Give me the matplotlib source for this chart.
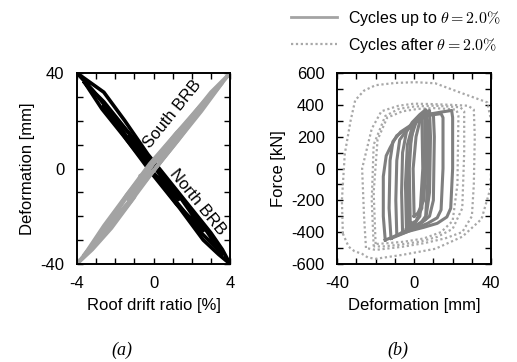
import numpy as np
import matplotlib.pyplot as plt
from matplotlib.lines import Line2D
from matplotlib.ticker import MultipleLocator

plt.rcParams['font.family'] = ['Liberation Sans', 'DejaVu Sans']
plt.rcParams['mathtext.fontset'] = 'cm'
plt.rcParams['axes.unicode_minus'] = False

# ---- (a) BRB deformation vs roof drift ratio, one list per cycle
north_drift = [
    [-4.0, -3.3, -2.6, -1.5, -0.3, 1.0, 2.2, 3.0, 3.6, 4.0, 3.4, 2.6, 1.4, 0.0, -1.2, -2.4, -3.2, -4.0],
    [-3.6, -2.6, -1.3, 0.0, 1.2, 2.5, 3.6, 2.5, 1.2, -0.1, -1.4, -2.7, -3.6],
    [-2.6, -1.3, 0.0, 1.3, 2.6, 1.2, -0.1, -1.4, -2.6],
    [-1.3, 0.0, 1.3, 0.0, -1.3],
]
north_def = [
    [40, 36, 32, 20, 6, -7, -19, -27, -34, -40, -36, -30, -17, -2, 11, 25, 33, 40],
    [36, 28, 15, 2, -10, -23, -36, -27, -14, -1, 12, 25, 36],
    [26, 15, 2, -11, -26, -15, -2, 12, 26],
    [13, 1, -13, -2, 13],
]
south_drift = [
    [-4.0, -3.2, -2.2, -1.0, -0.7, 0.0, 1.2, 2.4, 3.2, 4.0, 3.0, 2.0, 0.9, -0.2, -1.4, -2.6, -3.4, -4.0],
    [-3.6, -2.5, -1.2, 0.0, 1.3, 2.5, 3.6, 2.4, 1.1, -0.2, -1.4, -2.6, -3.6],
    [-2.6, -1.3, 0.0, 1.3, 2.6, 1.2, -0.1, -1.4, -2.6],
    [-1.3, 0.0, 1.3, 0.0, -1.3],
]
south_def = [
    [-40, -34, -25, -12, -3, -1, 12, 24, 32, 40, 32, 22, 11, 1, -12, -26, -34, -40],
    [-36, -27, -14, -1, 12, 24, 36, 26, 14, 2, -11, -24, -36],
    [-26, -14, -1, 12, 26, 15, 2, -11, -26],
    [-13, -1, 13, 2, -13],
]

# ---- (b) BRB force vs deformation
solid_disp = [
    [-15, -16, -16, -14.5, -12.5, -9, -3, 2, 7, 14, 19.5, 20, 20, 19, 17, 12, 5, -3, -10, -15],
    [-12, -13, -12.5, -11, -7, -2, 3, 8, 14, 15, 15, 14, 12, 7, 0, -6, -12],
    [-9, -9.5, -9, -7.5, -4, 0, 4, 8, 10, 10.5, 10, 8, 4, -1, -5, -9],
    [-6, -6.5, -6, -4, -1, 3, 6, 7, 7, 6, 3, -1, -4, -6],
    [-4, -4.5, -3.5, -1, 2, 5, 8, 8.5, 8, 6, 2, -2, -4],
    [-2, -2.5, -1.5, 1, 4, 5.5, 5.5, 4, 1, -2],
    [-3, -3.5, -2, 0, 2.5, 4, 4.5, 3, 0, -3],
    [0, -0.5, 1, 3, 6, 6.5, 5, 2, 0],
]
solid_force = [
    [-450, -300, -50, 80, 130, 207, 257, 302, 340, 355, 365, 320, 0, -250, -305, -345, -370, -395, -425, -450],
    [-440, -250, 50, 170, 230, 270, 310, 335, 345, 320, 0, -260, -310, -345, -380, -410, -440],
    [-420, -200, 50, 180, 240, 280, 320, 340, 345, 200, -200, -300, -340, -370, -395, -420],
    [-400, -150, 100, 230, 290, 340, 370, 300, -100, -300, -350, -370, -390, -400],
    [-380, -100, 150, 260, 320, 350, 365, 200, -150, -320, -350, -370, -380],
    [-350, 0, 200, 290, 340, 360, 100, -250, -330, -350],
    [-360, -50, 150, 280, 330, 340, 0, -300, -350, -360],
    [-300, 0, 200, 300, 350, 100, -200, -280, -300],
]
dotted_disp = [
    [-37, -37.5, -36, -33, -30.6, -26, -20, -10, 0.5, 11, 25, 38, 40, 40, 39.5, 35, 25, 11, -6, -20, -24, -27, -31, -34, -37],
    [-25, -26, -27, -22, -17, -8, 0, 10, 20, 28, 31, 31.5, 31, 30, 25, 16, 5, -6, -15, -20, -25],
    [-21, -22, -21, -15, -8, 0, 10, 18, 24, 26, 26, 25, 20, 12, 3, -8, -16, -21],
    [-20, -21, -19, -14, -6, 2, 10, 17, 22, 23, 22.5, 20, 14, 5, -5, -14, -20],
]
dotted_force = [
    [-410, -200, 92, 300, 429, 490, 524, 538, 543, 536, 473, 416, 300, 0, -130, -318, -429, -505, -543, -568, -560, -537, -520, -492, -410],
    [-500, -300, 0, 250, 360, 395, 408, 405, 400, 395, 370, 200, -100, -300, -400, -440, -470, -492, -505, -512, -500],
    [-490, -200, 150, 330, 375, 390, 395, 390, 385, 360, 100, -250, -380, -430, -460, -480, -490, -490],
    [-475, -150, 180, 320, 360, 375, 380, 375, 370, 330, -100, -330, -400, -440, -460, -470, -475],
]

fig = plt.figure(figsize=(5.17, 3.62), dpi=100)
ax1 = fig.add_axes([0.149, 0.271, 0.296, 0.527])
ax2 = fig.add_axes([0.652, 0.271, 0.298, 0.527])

for x, y in zip(north_drift, north_def):
    ax1.plot(x, y, color='black', lw=2.6)
for x, y in zip(south_drift, south_def):
    ax1.plot(x, y, color='#a3a3a3', lw=2.6)
ax1.set_xlim(-4, 4)
ax1.set_ylim(-40, 40)
ax1.set_xticks([-4, 0, 4])
ax1.set_yticks([-40, 0, 40])
ax1.xaxis.set_minor_locator(MultipleLocator(1))
ax1.yaxis.set_minor_locator(MultipleLocator(10))
ax1.set_xlabel('Roof drift ratio [%]', fontsize=12, labelpad=5)
ax1.set_ylabel('Deformation [mm]', fontsize=12, labelpad=4)
ax1.text(1.0, 23, 'South BRB', rotation=51, fontsize=12, ha='center', va='center')
ax1.text(2.3, -14, 'North BRB', rotation=-51, fontsize=12, ha='center', va='center')

for x, y in zip(dotted_disp, dotted_force):
    ax2.plot(x, y, color='#a8a8a8', lw=1.6, ls=(0, (1, 1.2)))
for x, y in zip(solid_disp, solid_force):
    ax2.plot(x, y, color='#7f7f7f', lw=2.2)
ax2.set_xlim(-40, 40)
ax2.set_ylim(-600, 600)
ax2.set_xticks([-40, 0, 40])
ax2.set_yticks(np.arange(-600, 601, 200))
ax2.xaxis.set_minor_locator(MultipleLocator(10))
ax2.yaxis.set_minor_locator(MultipleLocator(100))
ax2.set_xlabel('Deformation [mm]', fontsize=12, labelpad=5)
ax2.set_ylabel('Force [kN]', fontsize=12, labelpad=4)

for ax in (ax1, ax2):
    for s in ax.spines.values():
        s.set_linewidth(1.4)
    ax.tick_params(which='both', direction='in', top=True, right=True, labelsize=12,
                   width=1.0, length=4, pad=9)

handles = [Line2D([], [], color='#a3a3a3', lw=2.0),
           Line2D([], [], color='#a8a8a8', lw=1.6, ls=(0, (1, 1.2)))]
labels = [r'Cycles up to $\theta = 2.0\%$', r'Cycles after $\theta = 2.0\%$']
fig.legend(handles, labels, loc='upper left', bbox_to_anchor=(0.535, 1.015), frameon=False,
           fontsize=11.5, handlelength=2.9, handletextpad=0.7, labelspacing=0.5)

fig.text(0.236, 0.033, '(a)', fontsize=13, style='italic', family='Liberation Serif',
         ha='center', va='center')
fig.text(0.770, 0.033, '(b)', fontsize=13, style='italic', family='Liberation Serif',
         ha='center', va='center')

fig.savefig('out.png', dpi=100)
